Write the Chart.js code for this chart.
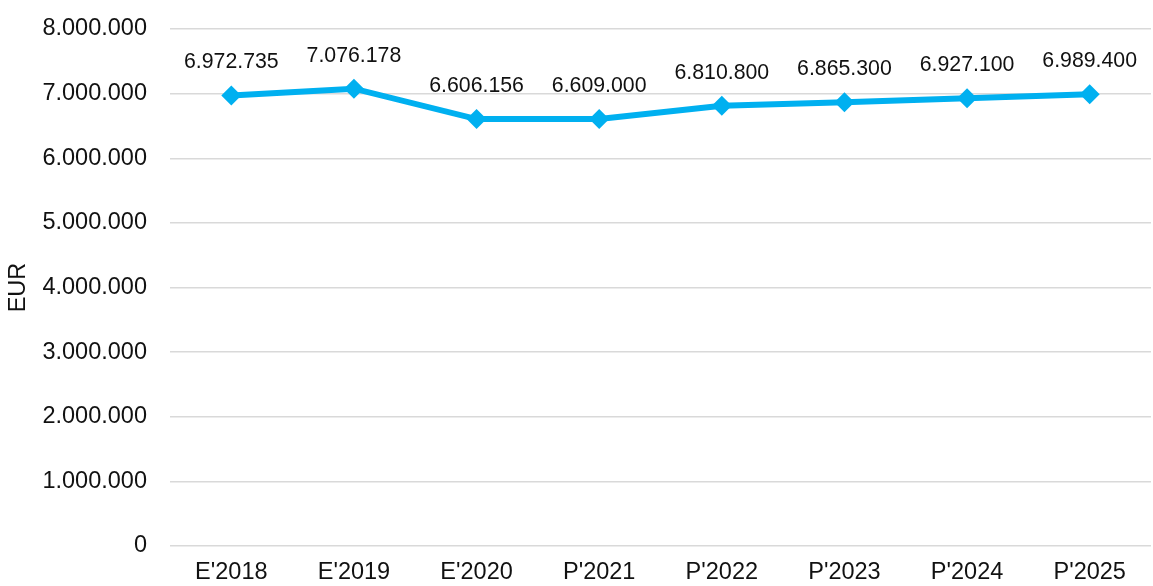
<!DOCTYPE html>
<html>
<head>
<meta charset="utf-8">
<script src="https://cdn.jsdelivr.net/npm/chart.js@4/dist/chart.umd.min.js"></script>
<style>
  html, body { margin: 0; padding: 0; background: #ffffff; overflow: hidden; }
  #wrap { width: 1153px; height: 586px; overflow: hidden; position: relative; }
  canvas { display: block; }
</style>
</head>
<body>
<div id="wrap"><canvas id="c" width="1161" height="586"></canvas></div>
<script>
const categories = ["E'2018", "E'2019", "E'2020", "P'2021", "P'2022", "P'2023", "P'2024", "P'2025"];
const values = [6972735, 7076178, 6606156, 6609000, 6810800, 6865300, 6927100, 6989400];
const axisTitle = "EUR";
const yMin = 0, yMax = 8000000, yStep = 1000000;

const FONT = "'Liberation Sans', Arial, Helvetica, sans-serif";
const TEXT = "#111111";

function fmt(v) {
  return String(Math.round(v)).replace(/\B(?=(\d{3})+(?!\d))/g, ".");
}

const valueLabels = {
  id: 'valueLabels',
  afterDatasetsDraw(chart) {
    const ctx = chart.ctx;
    const meta = chart.getDatasetMeta(0);
    ctx.save();
    ctx.font = "21.3px " + FONT;
    ctx.fillStyle = TEXT;
    ctx.textAlign = 'center';
    ctx.textBaseline = 'middle';
    meta.data.forEach((pt, i) => {
      ctx.fillText(fmt(chart.data.datasets[0].data[i]), pt.x, pt.y - 33);
    });
    ctx.restore();
  }
};

new Chart(document.getElementById('c'), {
  type: 'line',
  data: {
    labels: categories,
    datasets: [{
      data: values,
      borderColor: '#00B0F0',
      backgroundColor: '#00B0F0',
      borderWidth: 6,
      pointStyle: 'rectRot',
      pointRadius: 10,
      pointBackgroundColor: '#00B0F0',
      pointBorderColor: '#00B0F0',
      pointBorderWidth: 0,
      tension: 0,
      fill: false
    }]
  },
  options: {
    responsive: false,
    animation: false,
    layout: { padding: { top: 29, left: 0, right: 0, bottom: 0 } },
    plugins: { legend: { display: false }, tooltip: { enabled: false } },
    scales: {
      x: {
        offset: true,
        grid: { display: false, drawTicks: false },
        border: { display: false },
        ticks: { color: TEXT, font: { family: FONT, size: 23.5 }, padding: 12, maxRotation: 0, autoSkip: false },
        afterFit: (s) => { s.height = 40; s.paddingLeft = 0; s.paddingRight = 0; }
      },
      y: {
        min: yMin, max: yMax,
        grid: { color: '#d9d9d9', lineWidth: 1.5, drawTicks: false },
        border: { display: false },
        ticks: { stepSize: yStep, color: TEXT, font: { family: FONT, size: 23.5 }, padding: 23, callback: (v) => fmt(v) },
        title: { display: true, text: axisTitle, color: TEXT, font: { family: FONT, size: 23.5 }, padding: { top: 4, bottom: 4 } },
        afterFit: (s) => { s.width = 170; s.paddingTop = 0; s.paddingBottom = 0; }
      }
    }
  },
  plugins: [valueLabels]
});
</script>
</body>
</html>
